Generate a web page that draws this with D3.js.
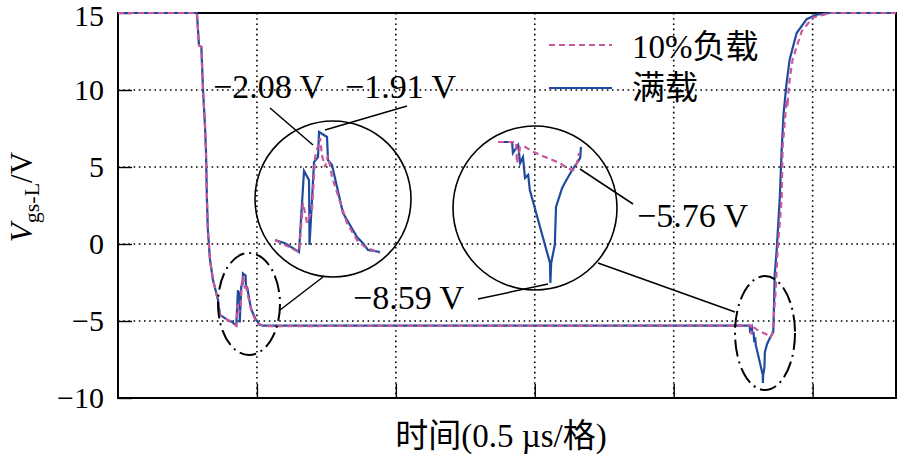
<!DOCTYPE html>
<html>
<head>
<meta charset="utf-8">
<script src="https://cdn.jsdelivr.net/npm/d3@7"></script>
<style>
  body { margin: 0; background: #fff; }
  svg text { font-family: "Liberation Serif", "Noto Sans CJK SC", serif; fill: #000; }
</style>
</head>
<body>
<div id="chart"></div>
<script>
// time in divisions (0.5 us per division), voltage in V
const turnOff = [[0, 15], [0.568, 15], [0.583, 12.9], [0.600, 12.8], [0.612, 10.0], [0.626, 7.7],
  [0.633, 6.1], [0.640, 2.9], [0.647, 0.9], [0.662, -1.0], [0.683, -2.3], [0.719, -3.6], [0.734, -4.6]]

const fullLoadBump = [[0.7937, -4.96], [0.8177, -5.05], [0.8513, -5.30], [0.8633, -3.01], [0.8753, -3.27],
  [0.8765, -5.10], [0.8825, -3.83], [0.8873, -2.76], [0.8969, -2.62], [0.8993, -1.91], [0.9185, -2.05],
  [0.9209, -2.71], [0.9305, -2.84], [0.9568, -4.20], [0.9904, -4.88], [1.0048, -5.05], [1.0168, -5.24],
  [1.0456, -5.30], [4.512, -5.30]]
const fullLoadDip = [[4.547, -5.30], [4.549, -5.59], [4.562, -5.38], [4.567, -5.86], [4.574, -5.70],
  [4.579, -6.25], [4.587, -6.17], [4.591, -6.57], [4.641, -8.50], [4.642, -9.03], [4.644, -8.50],
  [4.653, -8.02], [4.656, -7.02], [4.671, -6.52], [4.678, -6.38], [4.696, -6.04], [4.708, -5.86],
  [4.716, -5.72], [4.718, -5.43], [4.727, -2.0], [4.741, -0.4], [4.763, 2.9], [4.777, 6.1], [4.791, 8.5],
  [4.813, 10.5], [4.835, 12.0], [4.885, 13.7], [4.957, 14.6], [5.029, 14.9], [5.12, 15], [5.6, 15]]

const lightLoadBump = [[0.7937, -4.96], [0.8513, -5.30], [0.8609, -3.92], [0.8705, -4.48], [0.8825, -4.11],
  [0.8897, -2.64], [0.9017, -2.08], [0.9065, -2.57], [0.9137, -2.90], [0.9209, -2.57], [0.9305, -3.18],
  [0.9664, -4.48], [0.9904, -4.96], [1.0096, -5.16], [1.0456, -5.33], [4.512, -5.30]]
const lightLoadDip = [[4.557, -5.30], [4.559, -5.86], [4.567, -5.43], [4.579, -5.43], [4.599, -5.56],
  [4.634, -5.72], [4.666, -5.86], [4.683, -5.99], [4.698, -6.05], [4.708, -5.86], [4.713, -5.59],
  [4.734, -3.0], [4.748, -0.4], [4.777, 2.9], [4.784, 6.3], [4.809, 9.0], [4.816, 9.4], [4.819, 8.9],
  [4.823, 9.6], [4.835, 10.7], [4.856, 12.0], [4.921, 13.8], [5.0, 14.7], [5.122, 15], [5.6, 15]]

const fullLoad = turnOff.concat(fullLoadBump, fullLoadDip)
const lightLoad = turnOff.concat(lightLoadBump, lightLoadDip)

const yTicks = [-10, -5, 0, 5, 10, 15]
const xTicks = [1, 2, 3, 4, 5]
const legendNames = ["10%负载", "满载"]
const peakLabels = ["−2.08 V", "−1.91 V", "−5.76 V", "−8.59 V"]

const blue = "#1f4a9e"
const pink = "#c8579b"

const width = 898, height = 454
const svg = d3.select("#chart").append("svg").attr("width", width).attr("height", height)

const x = d3.scaleLinear().domain([0, 5.6]).range([118, 896])
const y = d3.scaleLinear().domain([-10, 15]).range([398, 13])

// grid
svg.append("g").selectAll("line").data(yTicks.filter(d => d > -10 && d < 15)).enter().append("line")
  .attr("x1", x(0)).attr("x2", x(5.6)).attr("y1", d => y(d)).attr("y2", d => y(d))
  .attr("stroke", "#000").attr("stroke-width", 1.6).attr("stroke-dasharray", "1.6,3.6")
svg.append("g").selectAll("line").data(xTicks).enter().append("line")
  .attr("x1", d => x(d)).attr("x2", d => x(d)).attr("y1", y(15)).attr("y2", y(-10))
  .attr("stroke", "#000").attr("stroke-width", 1.6).attr("stroke-dasharray", "1.6,3.6")

// axes with inner ticks
const yAxis = svg.append("g").attr("transform", `translate(${x(0)},0)`)
  .call(d3.axisRight(y).tickValues(yTicks).tickSize(14).tickFormat(""))
yAxis.select(".domain").remove()
yAxis.selectAll("line").attr("stroke-width", 1.4)
const xAxis = svg.append("g").attr("transform", `translate(0,${y(-10)})`)
  .call(d3.axisTop(x).tickValues(xTicks).tickSize(14).tickFormat(""))
xAxis.select(".domain").remove()
xAxis.selectAll("line").attr("stroke-width", 1.4)

// top label nudged down a little so it stays inside the page
svg.append("g").selectAll("text").data(yTicks).enter().append("text")
  .attr("x", 104).attr("y", d => y(d) + (d === 15 ? 13 : 10)).attr("text-anchor", "end")
  .attr("font-size", 30).text(d => d < 0 ? "−" + Math.abs(d) : d)

// frame
svg.append("rect").attr("x", x(0)).attr("y", y(15)).attr("width", x(5.6) - x(0)).attr("height", y(-10) - y(15))
  .attr("fill", "none").attr("stroke", "#000").attr("stroke-width", 2)

// main curves
const line = d3.line().x(d => x(d[0])).y(d => y(d[1]))
svg.append("path").datum(fullLoad).attr("d", line)
  .attr("fill", "none").attr("stroke", blue).attr("stroke-width", 2.2)
svg.append("path").datum(lightLoad).attr("d", line)
  .attr("fill", "none").attr("stroke", pink).attr("stroke-width", 2.2).attr("stroke-dasharray", "6,4")

// magnified views
function drawInset(xDomain, xRange, yDomain, yRange) {
  const xi = d3.scaleLinear().domain(xDomain).range(xRange)
  const yi = d3.scaleLinear().domain(yDomain).range(yRange)
  const lineInset = d3.line().x(d => xi(d[0])).y(d => yi(d[1]))
  const inWindow = d => d[0] >= xDomain[0] - 1e-6 && d[0] <= xDomain[1] + 1e-6
  svg.append("path").datum(fullLoad.filter(inWindow)).attr("d", lineInset)
    .attr("fill", "none").attr("stroke", blue).attr("stroke-width", 2.2)
  svg.append("path").datum(lightLoad.filter(inWindow)).attr("d", lineInset)
    .attr("fill", "none").attr("stroke", pink).attr("stroke-width", 2.2).attr("stroke-dasharray", "6,4")
}
drawInset([0.7937, 1.0456], [275, 380], [-5.3, -1.91], [252, 132])
drawInset([4.512, 4.718], [498, 581], [-5.3, -9.03], [142, 283])

// circles and ellipses
svg.append("circle").attr("cx", 333).attr("cy", 199).attr("r", 78)
  .attr("fill", "none").attr("stroke", "#000").attr("stroke-width", 1.6)
svg.append("circle").attr("cx", 535).attr("cy", 208).attr("r", 82)
  .attr("fill", "none").attr("stroke", "#000").attr("stroke-width", 1.6)
svg.append("ellipse").attr("cx", 249).attr("cy", 304).attr("rx", 31).attr("ry", 51)
  .attr("fill", "none").attr("stroke", "#000").attr("stroke-width", 2).attr("stroke-dasharray", "17,5,2,5")
svg.append("ellipse").attr("cx", 765).attr("cy", 333).attr("rx", 30).attr("ry", 57)
  .attr("fill", "none").attr("stroke", "#000").attr("stroke-width", 2).attr("stroke-dasharray", "17,5,2,5")

// leader lines
const leaders = [[270, 108, 313, 145], [407, 106, 325, 130], [580, 169, 633, 204], [478, 299, 548, 284],
  [280, 310, 323, 277], [598, 263, 735, 312]]
svg.append("g").selectAll("line").data(leaders).enter().append("line")
  .attr("x1", d => d[0]).attr("y1", d => d[1]).attr("x2", d => d[2]).attr("y2", d => d[3])
  .attr("stroke", "#000").attr("stroke-width", 1.5)

const labelPos = [[213, 98], [345, 98], [637, 227], [353, 309]]
svg.append("g").selectAll("text").data(peakLabels).enter().append("text")
  .attr("x", (d, i) => labelPos[i][0]).attr("y", (d, i) => labelPos[i][1])
  .attr("font-size", 34).text(d => d)

// legend
const legend = svg.append("g")
legend.append("line").attr("x1", 549).attr("x2", 612).attr("y1", 45).attr("y2", 45)
  .attr("stroke", pink).attr("stroke-width", 2.2).attr("stroke-dasharray", "6,4")
legend.append("line").attr("x1", 549).attr("x2", 612).attr("y1", 88).attr("y2", 88)
  .attr("stroke", blue).attr("stroke-width", 2.2)
legend.selectAll("text").data(legendNames).enter().append("text")
  .attr("x", 632).attr("y", (d, i) => i === 0 ? 58 : 99).attr("font-size", 33).text(d => d)

// axis titles
svg.append("text").attr("x", 501).attr("y", 447).attr("text-anchor", "middle").attr("font-size", 33)
  .text("时间(0.5 µs/格)")
const yTitle = svg.append("text").attr("transform", "translate(32,197) rotate(-90)")
  .attr("text-anchor", "middle").attr("font-size", 31)
yTitle.append("tspan").attr("font-style", "italic").text("V")
yTitle.append("tspan").attr("font-size", 22).attr("dy", 7).text("gs-L")
yTitle.append("tspan").attr("dy", -7).text("/V")
</script>
</body>
</html>
